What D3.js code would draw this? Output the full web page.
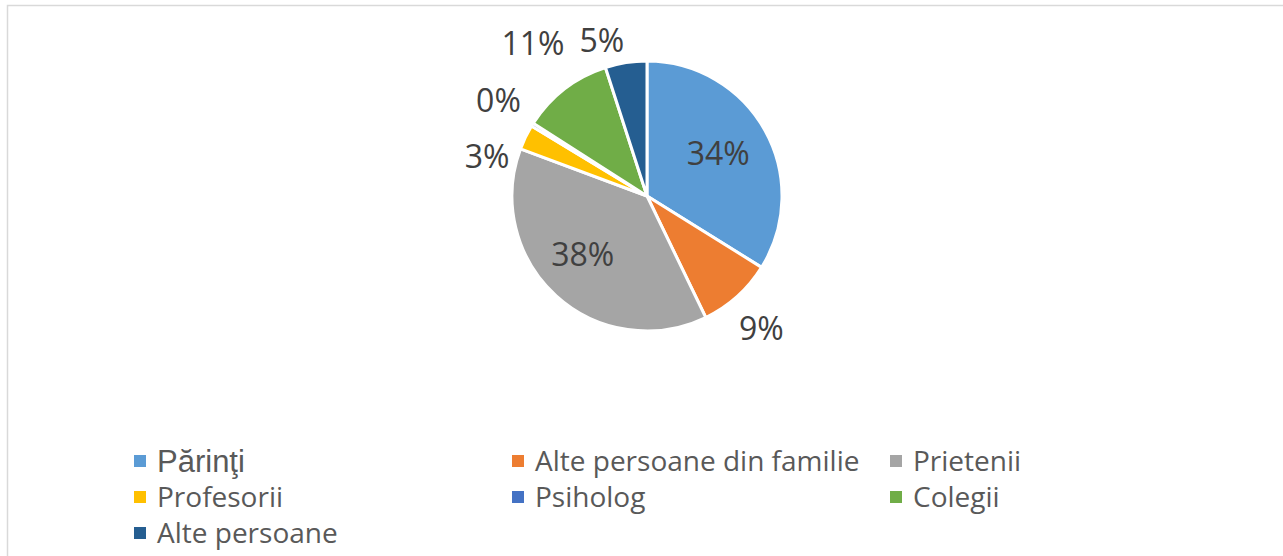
<!DOCTYPE html>
<html>
<head>
<meta charset="utf-8">
<script src="https://cdn.jsdelivr.net/npm/d3@7"></script>
<style>
  body { margin: 0; background: #fff; }
  svg { display: block; }
</style>
</head>
<body>
<div id="chart"></div>
<script>
// data
const categories = ["Părinţi", "Alte persoane din familie", "Prietenii", "Profesorii", "Psiholog", "Colegii", "Alte persoane"];
const values = [34, 9, 38, 3, 0.4, 11, 5];
const colors = ["#5b9bd5", "#ed7d31", "#a5a5a5", "#ffc000", "#4472c4", "#70ad47", "#255e91"];

const width = 1283, height = 556;
const cx = 647, cy = 196, radius = 135;

const svg = d3.select("#chart").append("svg")
    .attr("width", width)
    .attr("height", height);

// chart frame
svg.append("rect")
    .attr("x", 7.5).attr("y", 5.5)
    .attr("width", width + 10).attr("height", height + 10)
    .attr("fill", "none")
    .attr("stroke", "#d9d9d9")
    .attr("stroke-width", 1.5);

const data = categories.map(function(c, i) { return {name: c, value: values[i], color: colors[i]}; });
const total = d3.sum(values);
const fmt = d3.format(".0%");

const pie = d3.pie().value(function(d) { return d.value; }).sort(null);
const arcs = pie(data);

const arc = d3.arc().innerRadius(0).outerRadius(radius);

const g = svg.append("g").attr("transform", "translate(" + cx + "," + cy + ")");

g.selectAll("path.slice")
    .data(arcs)
    .enter().append("path")
    .attr("class", "slice")
    .attr("d", arc)
    .attr("fill", function(d) { return d.data.color; })
    .attr("stroke", "#fff")
    .attr("stroke-width", 3)
    .attr("stroke-linejoin", "round");

// labels: big slices inside, small ones outside (best fit)
const inside = d3.arc().innerRadius(radius * 0.62).outerRadius(radius * 0.62);
const outside = d3.arc().innerRadius(radius * 1.2).outerRadius(radius * 1.2);

const labelShift = {
  "Părinţi": [-2, -2],
  "Alte persoane din familie": [6, 12],
  "Prietenii": [-8, -3],
  "Profesorii": [-14, 31],
  "Psiholog": [-11, -10],
  "Colegii": [-15, -24],
  "Alte persoane": [-20, 5]
};

g.selectAll("text.lbl")
    .data(arcs)
    .enter().append("text")
    .attr("class", "lbl")
    .attr("transform", function(d) {
      const big = d.data.value / total > 0.2;
      const p = big ? inside.centroid(d) : outside.centroid(d);
      const s = labelShift[d.data.name] || [0, 0];
      return "translate(" + (p[0] + s[0]) + "," + (p[1] + s[1]) + ")";
    })
    .attr("text-anchor", "middle")
    .attr("dy", "0.35em")
    .attr("font-family", "'Open Sans', sans-serif")
    .attr("font-size", 32)
    .attr("fill", "#404040")
    .text(function(d) { return fmt(d.data.value / total); });

// legend
const colX = [134, 512, 890];
const rowY = [461, 497, 533];

const legend = svg.selectAll("g.leg")
    .data(data)
    .enter().append("g")
    .attr("class", "leg")
    .attr("transform", function(d, i) {
      return "translate(" + colX[i % 3] + "," + rowY[Math.floor(i / 3)] + ")";
    });

legend.append("rect")
    .attr("x", 0).attr("y", -6)
    .attr("width", 12).attr("height", 12)
    .attr("fill", function(d) { return d.color; });

legend.append("text")
    .attr("x", 23)
    .attr("dy", "0.35em")
    .attr("font-family", function(d, i) { return i === 0 ? "'Liberation Sans', Arial, sans-serif" : "'Open Sans', sans-serif"; })
    .attr("font-size", function(d, i) { return i === 0 ? 31 : 28; })
    .attr("fill", "#595959")
    .text(function(d) { return d.name; });
</script>
</body>
</html>
